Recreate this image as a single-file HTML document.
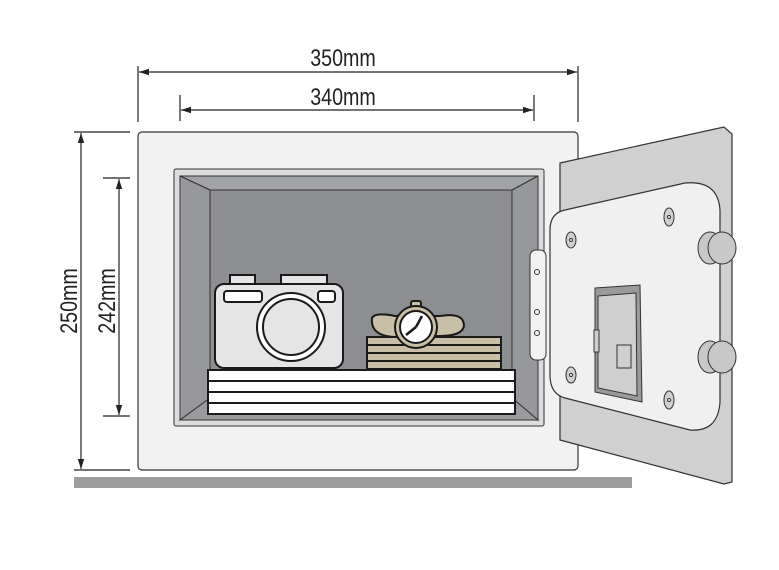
<!DOCTYPE html>
<html><head><style>html,body{margin:0;padding:0;background:#fff}svg{display:block}text{font-family:"Liberation Sans",sans-serif;fill:#222}</style></head>
<body>
<svg width="779" height="570" viewBox="0 0 779 570" xmlns="http://www.w3.org/2000/svg">
<defs><marker id="a" markerWidth="10" markerHeight="8" refX="10" refY="4" orient="auto-start-reverse" markerUnits="userSpaceOnUse"><path d="M10,4 L0,0.8 L0,7.2 Z" fill="#222"/></marker></defs>
<g stroke="#222" stroke-width="1.2" fill="none">
<line x1="138" y1="66" x2="138" y2="122"/><line x1="578" y1="66" x2="578" y2="122"/>
<line x1="139" y1="72" x2="577" y2="72" marker-start="url(#a)" marker-end="url(#a)"/>
<line x1="180" y1="95" x2="180" y2="121"/><line x1="534" y1="95" x2="534" y2="121"/>
<line x1="181" y1="110" x2="533" y2="110" marker-start="url(#a)" marker-end="url(#a)"/>
<line x1="74" y1="132" x2="130" y2="132"/><line x1="74" y1="470" x2="130" y2="470"/>
<line x1="81" y1="133" x2="81" y2="469" marker-start="url(#a)" marker-end="url(#a)"/>
<line x1="103" y1="178" x2="130" y2="178"/><line x1="103" y1="416" x2="130" y2="416"/>
<line x1="119" y1="179" x2="119" y2="415" marker-start="url(#a)" marker-end="url(#a)"/>
</g>
<text font-size="24" text-anchor="middle" transform="translate(343,66) scale(0.82,1)">350mm</text>
<text font-size="24" text-anchor="middle" transform="translate(343,105) scale(0.82,1)">340mm</text>
<text font-size="24" text-anchor="middle" transform="translate(77,301) rotate(-90) scale(0.82,1)">250mm</text>
<text font-size="24" text-anchor="middle" transform="translate(115,301) rotate(-90) scale(0.82,1)">242mm</text>
<rect x="74" y="477" width="558" height="11" fill="#9d9d9d"/>
<rect x="138" y="132" width="440" height="338" rx="4" fill="#f2f2f2" stroke="#333" stroke-width="1.2"/>
<rect x="174" y="169" width="370" height="257" rx="2" fill="#dcdcdc" stroke="#333"/>
<rect x="180" y="176" width="358" height="244" fill="#8e8f92" stroke="#333"/>
<polygon points="180,176 538,176 512,190 210,190" fill="#a2a3a6" stroke="#333"/>
<polygon points="180,176 210,190 210,398 180,420" fill="#97989b" stroke="#333"/>
<polygon points="538,176 512,190 512,398 538,420" fill="#97989b" stroke="#333"/>
<rect x="210" y="190" width="302" height="208" fill="#8d8e91" stroke="#333"/>
<polygon points="180,420 210,398 512,398 538,420" fill="#9a9b9e" stroke="#333"/>
<g stroke="#1a1a1a" stroke-width="2">
<rect x="208" y="370" width="307" height="11" fill="#fff"/><rect x="208" y="381" width="307" height="11" fill="#fff"/><rect x="208" y="392" width="307" height="11" fill="#fff"/><rect x="208" y="403" width="307" height="11" fill="#fff"/>
<rect x="230" y="275" width="25" height="10" fill="#e5e5e6"/><rect x="281" y="275" width="46" height="10" fill="#e5e5e6"/>
<rect x="215" y="284" width="128" height="84" rx="9" fill="#e5e5e6"/>
<rect x="224" y="291" width="38" height="11" rx="3" fill="#fff"/><rect x="318" y="291" width="17" height="11" rx="3" fill="#fff"/>
<circle cx="291" cy="327" r="34" fill="#fff"/><circle cx="291" cy="327" r="28" fill="#e5e5e6"/>
<rect x="367" y="337" width="134" height="8" fill="#c9bfa6"/><rect x="367" y="345" width="134" height="8" fill="#c9bfa6"/><rect x="367" y="353" width="134" height="8" fill="#c9bfa6"/><rect x="367" y="361" width="134" height="8" fill="#c9bfa6"/>
<path d="M372,318 Q375,312 395,316 L440,316 Q464,312 464,326 Q462,336 440,336 L395,337 Q370,336 372,318 Z" fill="#c9bfa6"/>
<rect x="411" y="301" width="10" height="6" rx="2" fill="#c9bfa6"/>
<circle cx="416" cy="327" r="21" fill="#c9bfa6"/><circle cx="416" cy="327" r="16" fill="#fff"/>
<path d="M416,327 L422,316 M416,327 L406,335" stroke-width="2.5"/>
</g>
<polygon points="560,163 724,127 732,134 732,482 724,484 560,440" fill="#d0d0d0" stroke="#333" stroke-width="1.2"/>
<rect x="530" y="250" width="16" height="110" rx="6" fill="#f2f2f2" stroke="#333"/>
<circle cx="537" cy="272" r="2.5" fill="none" stroke="#333"/><circle cx="537" cy="312" r="2.5" fill="none" stroke="#333"/><circle cx="537" cy="333" r="2.5" fill="none" stroke="#333"/>
<path d="M565,210 L685,183 Q718,180 720,210 L720,402 Q718,432 690,430 L565,398 Q550,394 550,375 L550,230 Q550,213 565,210 Z" fill="#f0f0f0" stroke="#333" stroke-width="1.2"/>
<g fill="#cfcfcf" stroke="#333"><ellipse cx="571" cy="240" rx="5" ry="8"/><ellipse cx="669" cy="217" rx="5" ry="9"/><ellipse cx="571" cy="375" rx="5" ry="8"/><ellipse cx="669" cy="400" rx="5" ry="9"/></g>
<g fill="#fff" stroke="#333"><circle cx="571" cy="240" r="1.5"/><circle cx="669" cy="217" r="1.5"/><circle cx="571" cy="375" r="1.5"/><circle cx="669" cy="400" r="1.5"/></g>
<g stroke="#333" fill="#c8c8c8"><ellipse cx="710" cy="248" rx="12" ry="16"/><ellipse cx="722" cy="248" rx="14" ry="16"/><ellipse cx="710" cy="357" rx="12" ry="16"/><ellipse cx="722" cy="357" rx="14" ry="16"/></g>
<polygon points="595,288 640,285 642,402 595,392" fill="#9a9a9a" stroke="#333"/>
<polygon points="598,296 636,293 637,396 598,388" fill="#cfcfcf" stroke="#333"/>
<rect x="594" y="330" width="5" height="22" fill="#cfcfcf" stroke="#333"/>
<rect x="617" y="345" width="14" height="23" fill="#cfcfcf" stroke="#333"/>
</svg>
</body></html>
